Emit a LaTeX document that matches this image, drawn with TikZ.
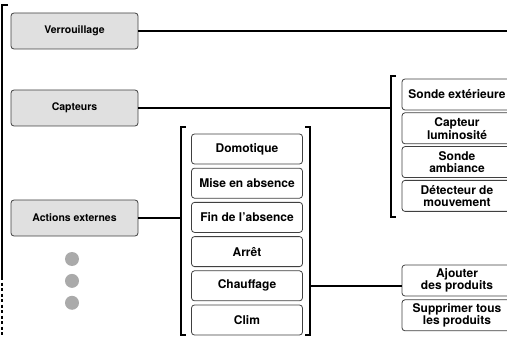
\documentclass[tikz,border=0pt]{standalone}
\usepackage{fontspec}
\setmainfont{TeX Gyre Heros}
\usetikzlibrary{positioning}
\definecolor{menuGrey}{HTML}{E0E0E0}
\definecolor{menuLine}{HTML}{404040}
\definecolor{menuDot}{HTML}{AAAAAA}

\begin{document}
\begin{tikzpicture}[x=1pt, y=-1pt,
      grp/.style={rounded corners=3pt, draw=menuLine, fill=menuGrey, line width=0.8pt,
        minimum width=127pt, minimum height=36pt, font=\fontsize{10.5}{11}\selectfont\bfseries},
      itm/.style={rounded corners=3pt, draw=menuLine, fill=white, line width=0.8pt,
        minimum width=111pt, minimum height=30pt, inner sep=1pt, align=center,
        font=\fontsize{12}{11.5}\selectfont\bfseries},
      sub/.style={itm, minimum width=110pt, minimum height=31pt},
      ln/.style={line width=1.6pt},
      br/.style={line width=1.1pt},
      dot/.style={circle, fill=menuDot, minimum size=14pt, inner sep=0pt}]
    \useasboundingbox (0,0) rectangle (507,337);
    % left column: menu groups
    \node[grp] (lock) at (74.5,31) {Verrouillage};
    \node[grp] (sens) at (74.5,108) {Capteurs};
    \node[grp] (ext) at (74.5,218) {Actions externes};
    \node[dot] (d1) at (72,259) {};
    \node[dot, below=7.5pt of d1] (d2) {};
    \node[dot, below=7.5pt of d2] (d3) {};
    % outer bracket
    \coordinate (otop) at (2,5);
    \coordinate (omid) at (2,277);
    \coordinate (obot) at (2,340);
    \draw[br] ([xshift=6pt]otop) -- (otop) -- (omid);
    \draw[br, dash pattern=on 3pt off 2.5pt] (omid) -- (obot);
    % middle column: external actions
    \node[itm] (domo) at (247,149) {Domotique};
    \node[itm, below=3.4pt of domo] (abs) {Mise en absence};
    \node[itm, below=3.4pt of abs] (fin) {Fin de l’absence};
    \node[itm, below=3.4pt of fin] (halt) {Arrêt};
    \node[itm, below=3.4pt of halt] (chauf) {Chauffage};
    \node[itm, below=3.4pt of chauf] (clim) {Clim};
    \coordinate (mtl) at (181,127); \coordinate (mbl) at (181,335);
    \coordinate (mtr) at (310,127); \coordinate (mbr) at (310,335);
    \draw[br] ([xshift=5pt]mtl) -- (mtl) -- (mbl) -- ([xshift=5pt]mbl);
    \draw[br] ([xshift=-5pt]mtr) -- (mtr) -- (mbr) -- ([xshift=-5pt]mbr);
    % right column: sensors
    \node[sub] (sext) at (457,94.5) {Sonde extérieure};
    \node[sub, below=2pt of sext] (slum) {Capteur\\luminosité};
    \node[sub, below=2pt of slum] (samb) {Sonde\\ambiance};
    \node[sub, below=2pt of samb] (smov) {Détecteur de\\mouvement};
    \coordinate (stop) at (391,76); \coordinate (sbot) at (391,217);
    \draw[br] ([xshift=5pt]stop) -- (stop) -- (sbot) -- ([xshift=5pt]sbot);
    % right column: heating
    \node[sub] (add) at (457,280.5) {Ajouter\\des produits};
    \node[sub, below=3pt of add] (del) {Supprimer tous\\les produits};
    % connectors
    \coordinate (edge) at (510,31);
    \draw[ln] (lock.east) -- (edge);
    \draw[ln] (sens.east) -- (sens.east -| stop);
    \draw[ln] (ext.east) -- (ext.east -| mtl);
    \draw[ln] (chauf.east -| mtr) -- (chauf.east -| add.west);
  \end{tikzpicture}
\end{document}
